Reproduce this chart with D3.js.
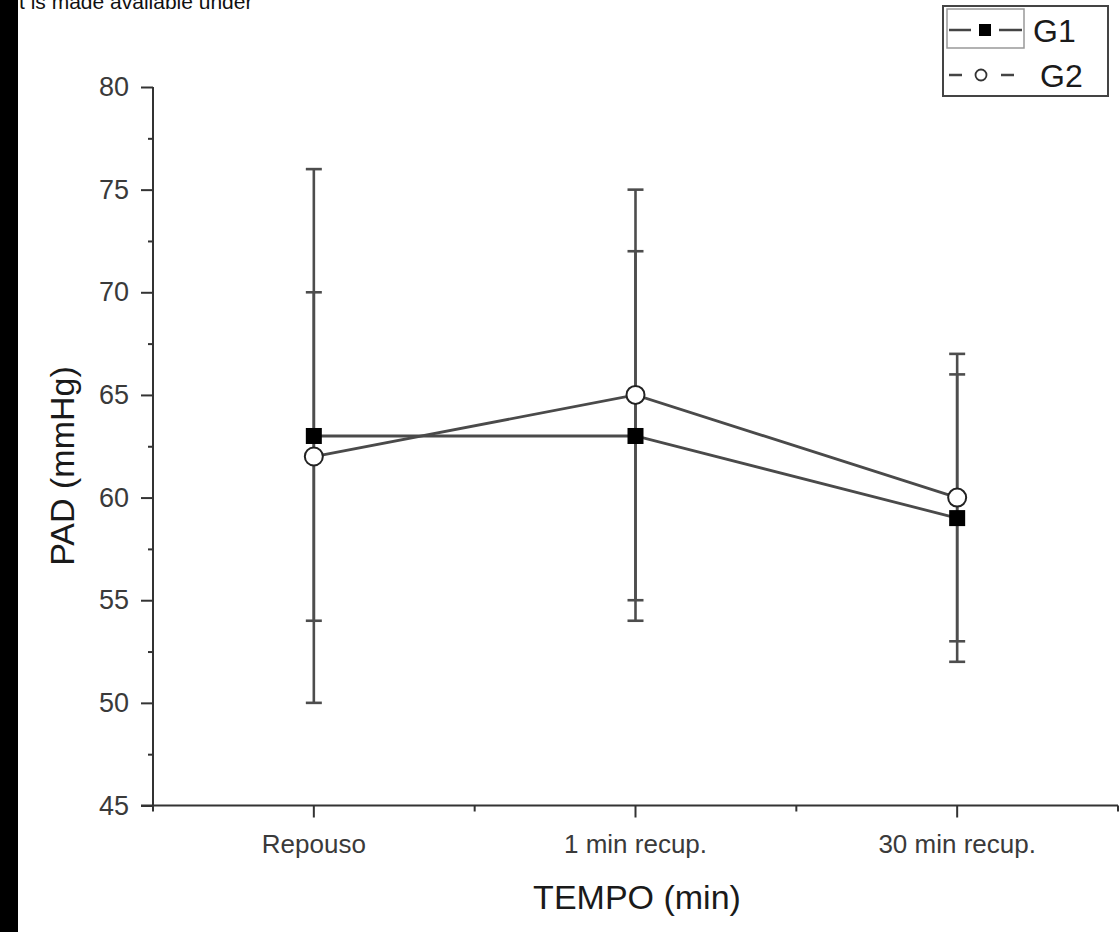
<!DOCTYPE html>
<html>
<head>
<meta charset="utf-8">
<script src="https://cdn.jsdelivr.net/npm/d3@7"></script>
<style>
  html, body { margin: 0; padding: 0; background: #fff; }
  svg { display: block; font-family: "Liberation Sans", Arial, sans-serif; }
</style>
</head>
<body>
<svg id="chart" width="1120" height="932"></svg>
<script>
// PAD (mmHg) by time point, mean ± SD for two groups
const categories = ["Repouso", "1 min recup.", "30 min recup."];
const g1Mean = [63, 63, 59];
const g1Sd   = [13, 9, 7];
const g2Mean = [62, 65, 60];
const g2Sd   = [8, 10, 7];
const yTicks = [45, 50, 55, 60, 65, 70, 75, 80];
const yMinorTicks = [47.5, 52.5, 57.5, 62.5, 67.5, 72.5, 77.5];
const seriesNames = ["G1", "G2"];

const svg = d3.select("#chart");

const plot = { left: 153, right: 1118, top: 87, bottom: 805.5 };

const x = d3.scaleBand().domain(categories).range([plot.left, plot.right]).padding(0);
const xc = c => x(c) + x.bandwidth() / 2;
const y = d3.scaleLinear().domain([45, 80]).range([plot.bottom, plot.top]);

// header text strip and dark left edge
svg.append("text")
  .attr("x", 19).attr("y", 9)
  .attr("font-size", 21).attr("fill", "#111")
  .text("t is made available under");
svg.append("rect").attr("x", 0).attr("y", 0).attr("width", 18).attr("height", 932).attr("fill", "#000");

// y axis
const yAxis = d3.axisLeft(y).tickValues(yTicks).tickSize(12).tickPadding(12).tickFormat(d3.format("d"));
const gy = svg.append("g").attr("transform", `translate(${plot.left},0)`).call(yAxis);
gy.select(".domain").attr("stroke", "#333").attr("stroke-width", 2).attr("d", `M0,${plot.top}V${plot.bottom + 4}`);
gy.selectAll(".tick line").attr("stroke", "#333").attr("stroke-width", 2);
gy.selectAll(".tick text").attr("font-size", 27).attr("fill", "#3a3a3a")
  .attr("font-family", "Liberation Sans, Arial, sans-serif");
svg.append("g").attr("transform", `translate(${plot.left},0)`)
  .call(d3.axisLeft(y).tickValues(yMinorTicks).tickSize(5).tickFormat(""))
  .call(g => g.select(".domain").remove())
  .selectAll(".tick line").attr("stroke", "#333").attr("stroke-width", 2);

// x axis
const xAxis = d3.axisBottom(x).tickSize(12).tickPadding(17);
const gx = svg.append("g").attr("transform", `translate(0,${plot.bottom})`).call(xAxis);
gx.select(".domain").attr("stroke", "#333").attr("stroke-width", 2).attr("d", `M${plot.left - 12},0H${plot.right}`);
gx.selectAll(".tick line").attr("stroke", "#333").attr("stroke-width", 2);
gx.selectAll(".tick text").attr("font-size", 26).attr("fill", "#3a3a3a")
  .attr("font-family", "Liberation Sans, Arial, sans-serif");
// minor ticks at band boundaries
const bounds = categories.map(c => x(c)).concat([x(categories[categories.length - 1]) + x.bandwidth()]);
svg.append("g").selectAll("line").data(bounds).join("line")
  .attr("x1", d => d).attr("x2", d => d)
  .attr("y1", plot.bottom).attr("y2", plot.bottom + 6)
  .attr("stroke", "#333").attr("stroke-width", 2);

// axis titles
svg.append("text")
  .attr("x", 637).attr("y", 909)
  .attr("text-anchor", "middle").attr("font-size", 34).attr("fill", "#1a1a1a")
  .text("TEMPO (min)");
svg.append("text")
  .attr("transform", "translate(74,466) rotate(-90)")
  .attr("text-anchor", "middle").attr("font-size", 34).attr("fill", "#1a1a1a")
  .text("PAD (mmHg)");

// data rows
const g1 = categories.map((c, i) => ({ c, m: g1Mean[i], sd: g1Sd[i] }));
const g2 = categories.map((c, i) => ({ c, m: g2Mean[i], sd: g2Sd[i] }));

function errorBars(data) {
  const g = svg.append("g").attr("stroke", "#4d4d4d").attr("stroke-width", 2.6);
  data.forEach(d => {
    const cx = xc(d.c);
    g.append("line").attr("x1", cx).attr("x2", cx).attr("y1", y(d.m - d.sd)).attr("y2", y(d.m + d.sd));
    g.append("line").attr("x1", cx - 8).attr("x2", cx + 8).attr("y1", y(d.m + d.sd)).attr("y2", y(d.m + d.sd));
    g.append("line").attr("x1", cx - 8).attr("x2", cx + 8).attr("y1", y(d.m - d.sd)).attr("y2", y(d.m - d.sd));
  });
}
errorBars(g1);
errorBars(g2);

const line = d3.line().x(d => xc(d.c)).y(d => y(d.m));
svg.append("path").datum(g1).attr("d", line).attr("fill", "none").attr("stroke", "#4a4a4a").attr("stroke-width", 2.8);
svg.append("path").datum(g2).attr("d", line).attr("fill", "none").attr("stroke", "#4a4a4a").attr("stroke-width", 2.8);

// markers
svg.append("g").selectAll("rect").data(g1).join("rect")
  .attr("x", d => xc(d.c) - 8).attr("y", d => y(d.m) - 8)
  .attr("width", 16).attr("height", 16).attr("fill", "#000");
svg.append("g").selectAll("circle").data(g2).join("circle")
  .attr("cx", d => xc(d.c)).attr("cy", d => y(d.m)).attr("r", 9)
  .attr("fill", "#fff").attr("stroke", "#222").attr("stroke-width", 2);

// legend
const lg = svg.append("g");
lg.append("rect").attr("x", 943).attr("y", 6).attr("width", 165).attr("height", 90)
  .attr("fill", "#fff").attr("stroke", "#444").attr("stroke-width", 2);
lg.append("rect").attr("x", 947).attr("y", 9).attr("width", 77).attr("height", 39)
  .attr("fill", "none").attr("stroke", "#999").attr("stroke-width", 1.5);
// G1 sample
lg.append("line").attr("x1", 949).attr("x2", 971).attr("y1", 30).attr("y2", 30).attr("stroke", "#444").attr("stroke-width", 2.5);
lg.append("line").attr("x1", 999).attr("x2", 1022).attr("y1", 30).attr("y2", 30).attr("stroke", "#444").attr("stroke-width", 2.5);
lg.append("rect").attr("x", 979).attr("y", 24).attr("width", 12).attr("height", 12).attr("fill", "#000");
// G2 sample
lg.append("line").attr("x1", 949).attr("x2", 962).attr("y1", 75).attr("y2", 75).attr("stroke", "#444").attr("stroke-width", 2.5);
lg.append("line").attr("x1", 1001).attr("x2", 1014).attr("y1", 75).attr("y2", 75).attr("stroke", "#444").attr("stroke-width", 2.5);
lg.append("circle").attr("cx", 981).attr("cy", 75).attr("r", 5.5).attr("fill", "#fff").attr("stroke", "#333").attr("stroke-width", 1.8);
lg.selectAll("text.lbl").data(seriesNames).join("text")
  .attr("class", "lbl")
  .attr("x", (d, i) => i === 0 ? 1033 : 1040)
  .attr("y", (d, i) => i === 0 ? 42 : 87)
  .attr("font-size", 32).attr("fill", "#1a1a1a")
  .text(d => d);
</script>
</body>
</html>
